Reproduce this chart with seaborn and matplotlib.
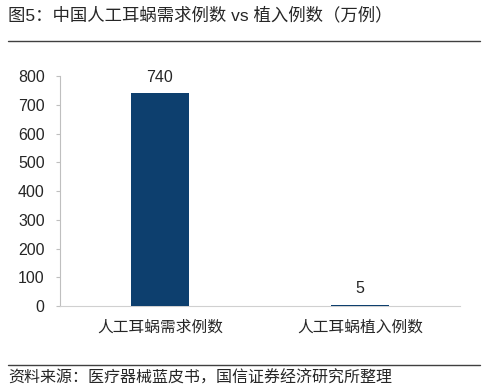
import matplotlib
matplotlib.use("Agg")
import matplotlib.pyplot as plt
from matplotlib.lines import Line2D
import seaborn as sns
import pandas as pd

categories = ["人工耳蜗需求例数", "人工耳蜗植入例数"]
values = [740, 5]
title = "图5：中国人工耳蜗需求例数 vs 植入例数（万例）"
source = "资料来源：医疗器械蓝皮书，国信证券经济研究所整理"

sns.set_style("white")
plt.rcParams["font.family"] = ["Liberation Sans", "Noto Sans CJK SC", "DejaVu Sans"]

df = pd.DataFrame({"category": categories, "value": values})

fig = plt.figure(figsize=(4.84, 3.91), dpi=100)
ax = fig.add_axes([0.124, 0.217, 0.826, 0.588])
sns.barplot(data=df, x="category", y="value", color="#0D3F6E",
            width=0.29, saturation=1, linewidth=0, ax=ax)
for p in ax.patches:
    p.set_zorder(3)
ax.set_xlim(-0.5, 1.5)
ax.set_ylim(0, 800)
ax.set_yticks(range(0, 801, 100))
ax.set_xlabel("")
ax.set_ylabel("")
for spine in ["top", "right"]:
    ax.spines[spine].set_visible(False)
ax.spines["left"].set_color("#BFBFBF")
ax.spines["bottom"].set_color("#D0D0D0")
ax.tick_params(axis="y", length=3, color="#BFBFBF", labelsize=11.5, pad=8, left=True)
ax.tick_params(axis="x", length=0, labelsize=11.3, pad=10)
for c in ax.containers:
    ax.bar_label(c, fmt="%d", padding=6, fontsize=11.5)

fig.text(0.017, 0.962, title, fontsize=12.5, va="center", ha="left")
fig.add_artist(Line2D([0.017, 0.992], [0.895, 0.895], color="#404040", lw=1))
fig.add_artist(Line2D([0.017, 0.992], [0.0665, 0.0665], color="#404040", lw=1))
fig.text(0.017, 0.033, source, fontsize=11.5, va="center", ha="left")

fig.savefig("out.png", dpi=100)
